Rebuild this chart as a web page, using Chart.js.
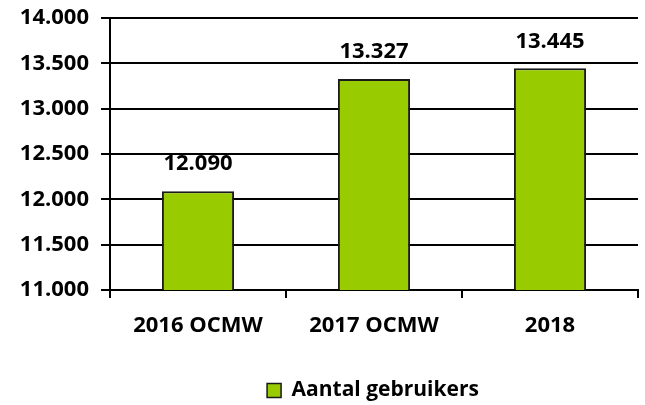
<!DOCTYPE html>
<html>
<head>
<meta charset="utf-8">
<script src="https://cdn.jsdelivr.net/npm/chart.js@4"></script>
<style>
html,body{margin:0;padding:0;background:#fff;}
#wrap{width:645px;height:405px;}
</style>
</head>
<body>
<div id="wrap"><canvas id="c" width="645" height="405"></canvas></div>
<script>
const categories = ["2016 OCMW", "2017 OCMW", "2018"];
const values = [12090, 13327, 13445];
const seriesName = "Aantal gebruikers";
const yMin = 11000, yMax = 14000, yStep = 500;

function fmt(v){
  return String(Math.round(v)).replace(/\B(?=(\d{3})+(?!\d))/g, ".");
}
const FONT = "'Open Sans'";

const valueLabels = {
  id: "valueLabels",
  afterLayout(chart){
    // the reference legend is centred under the plot area, not the canvas
    if (chart.legend) chart.legend.left = 108;
  },
  afterDatasetsDraw(chart){
    const ctx = chart.ctx;
    const meta = chart.getDatasetMeta(0);
    ctx.save();
    ctx.font = "700 22px " + FONT;
    ctx.fillStyle = "#000";
    ctx.textAlign = "center";
    ctx.textBaseline = "middle";
    meta.data.forEach((bar, i) => {
      ctx.fillText(fmt(values[i]), bar.x, bar.y - 27);
    });
    ctx.restore();
  }
};

new Chart(document.getElementById("c"), {
  type: "bar",
  data: {
    labels: categories,
    datasets: [{
      label: seriesName,
      data: values,
      backgroundColor: "#99cc00",
      borderColor: "#1a1a1a",
      borderWidth: 2,
      borderSkipped: false,
      categoryPercentage: 1,
      barPercentage: 0.41
    }]
  },
  options: {
    responsive: false,
    animation: false,
    layout: { padding: { left: 0, right: 7, top: 0, bottom: -6 } },
    plugins: {
      legend: {
        position: "bottom",
        labels: {
          font: { family: FONT, size: 21, weight: 700 },
          color: "#000",
          boxWidth: 14,
          boxHeight: 14,
          padding: 10,
          generateLabels(chart){
            return [{
              text: seriesName,
              fillStyle: "#99cc00",
              strokeStyle: "#1a1a1a",
              lineWidth: 1.5,
              datasetIndex: 0
            }];
          }
        }
      },
      tooltip: { enabled: false }
    },
    scales: {
      x: {
        offset: true,
        grid: { display: true, drawOnChartArea: false, drawTicks: true, tickLength: 8, color: "#000", lineWidth: 2 },
        border: { display: true, color: "#000", width: 2 },
        ticks: { font: { family: FONT, size: 22, weight: 700 }, color: "#000", padding: 15 },
        afterFit(scale){ scale.height = 80; }
      },
      y: {
        min: yMin, max: yMax,
        grid: { color: "#000", lineWidth: 2, drawTicks: true, tickLength: 9 },
        border: { display: true, color: "#000", width: 2 },
        ticks: {
          stepSize: yStep,
          font: { family: FONT, size: 22, weight: 700, lineHeight: 1.2 },
          color: "#000",
          padding: 12,
          callback: (v) => fmt(v)
        },
        afterFit(scale){ scale.width = 110; scale.paddingTop = 18; }
      }
    }
  },
  plugins: [valueLabels]
});
</script>
</body>
</html>
